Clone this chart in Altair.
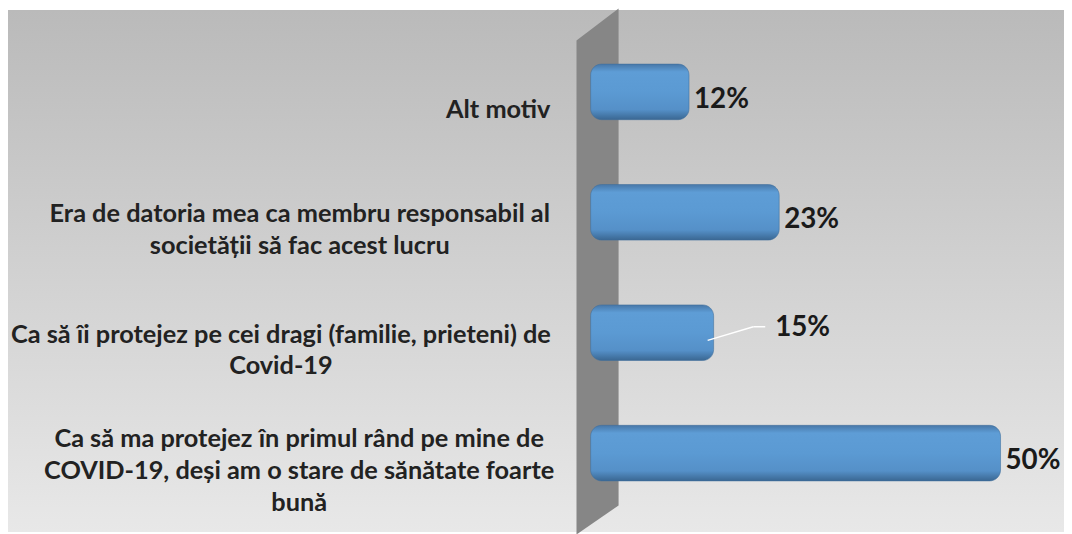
import altair as alt
import pandas as pd

# ---- data ----
categories = [
    ["Alt motiv"],
    ["Era de datoria mea ca membru responsabil al", "societății să fac acest lucru"],
    ["Ca să îi protejez pe cei dragi (familie, prieteni) de", "Covid-19"],
    ["Ca să ma protejez în primul rând pe mine de",
     "COVID-19, deși am o stare de sănătate foarte", "bună"],
]
values = [12, 23, 15, 50]
value_labels = ["12%", "23%", "15%", "50%"]

# ---- layout / style ----
W, H = 1064, 526
LABEL_FONT = 25.5
LINE_H = 32.5
VALUE_FONT = 28
FONT = "Lato"
X_DOMAIN = [-71.07, 57.74]
Y_DOMAIN = [-0.639, 3.614]
STEP_PX = H / (Y_DOMAIN[1] - Y_DOMAIN[0])
LABEL_RIGHT = 545  # right edge of the category text block (px)

# approximate Lato Bold advance widths (em)
_w = {" ": .26, "a": .53, "b": .58, "c": .48, "d": .58, "e": .54, "f": .34, "g": .52,
      "h": .58, "i": .26, "j": .26, "k": .53, "l": .26, "m": .86, "n": .58, "o": .57,
      "p": .58, "q": .58, "r": .39, "s": .44, "t": .37, "u": .58, "v": .53, "w": .79,
      "x": .52, "y": .53, "z": .47, "(": .3, ")": .3, ",": .22, "-": .36, ".": .22,
      "ă": .53, "â": .53, "î": .26, "ș": .44, "ț": .37, "M": .8, "I": .3, "O": .75,
      "D": .72, "V": .65, "C": .63, "A": .66, "E": .56}


def est_width(s, size):
    tot = 0.0
    for ch in s:
        if ch in _w:
            tot += _w[ch]
        elif ch.isdigit():
            tot += .58
        elif ch.isupper():
            tot += .65
        else:
            tot += .52
    return tot * size * 0.967


def px_to_x(px):
    return X_DOMAIN[0] + px / W * (X_DOMAIN[1] - X_DOMAIN[0])


rows = []
line_rows = []
for i, (lines, v, lab) in enumerate(zip(categories, values, value_labels)):
    rows.append(dict(idx=i, v=v, lab=lab))
    block_w = max(est_width(l, LABEL_FONT) for l in lines)
    cx = px_to_x(LABEL_RIGHT - block_w / 2)
    n = len(lines)
    for k, line in enumerate(lines):
        line_rows.append(dict(idx=i, line=line, cx=cx,
                              ly=i + (k - (n - 1) / 2) * LINE_H / STEP_PX))
df = pd.DataFrame(rows)
df_lines = pd.DataFrame(line_rows)

x_scale = alt.Scale(domain=X_DOMAIN, nice=False, zero=False)
y_scale = alt.Scale(domain=Y_DOMAIN, reverse=True, nice=False, zero=False)

one = pd.DataFrame({"k": [0]})

bg = alt.Chart(one).mark_rect(
    color=alt.Gradient(
        gradient="linear", x1=0, x2=0, y1=0, y2=1,
        stops=[alt.GradientStop(offset=0, color="#bababa"),
               alt.GradientStop(offset=1, color="#e8e8e8")],
    )
).encode(x=alt.value(0), x2=alt.value(W), y=alt.value(0), y2=alt.value(H))

wall = alt.Chart(one).mark_point(
    shape="M-0.08,-0.878L0.08,-1L0.08,0.8895L-0.08,1Z",
    filled=True, color="#868686", opacity=1, size=530 ** 2, strokeWidth=0,
).encode(x=alt.value(594), y=alt.value(263.5))

base = alt.Chart(df)

bar_grad = alt.Gradient(
    gradient="linear", x1=0, x2=0, y1=0, y2=1,
    stops=[
        alt.GradientStop(offset=0, color="#4777a8"),
        alt.GradientStop(offset=0.14, color="#5e9dd6"),
        alt.GradientStop(offset=0.5, color="#5b9ad3"),
        alt.GradientStop(offset=0.82, color="#5590c8"),
        alt.GradientStop(offset=1, color="#3a6792"),
    ],
)

bars = base.mark_bar(
    size=56, cornerRadius=5, cornerRadiusEnd=11, color=bar_grad,
    stroke="#3f6f9c", strokeWidth=0.8, strokeOpacity=0.7,
).encode(
    x=alt.X("v:Q", scale=x_scale, axis=None),
    x2=alt.datum(0),
    y=alt.Y("idx:Q", scale=y_scale, axis=None),
)

cat_text = alt.Chart(df_lines).mark_text(
    align="center", baseline="middle", font=FONT, fontWeight="bold",
    fontSize=LABEL_FONT, color="#222222", dy=18,
).encode(
    x=alt.X("cx:Q", scale=x_scale, axis=None),
    y=alt.Y("ly:Q", scale=y_scale, axis=None),
    text=alt.Text("line:N"),
)

val_text = base.transform_filter(alt.datum.idx != 2).mark_text(
    align="left", baseline="middle", font=FONT, fontWeight="bold",
    fontSize=VALUE_FONT, color="#1a1a1a", dx=5, dy=8,
).encode(
    x=alt.X("v:Q", scale=x_scale, axis=None),
    y=alt.Y("idx:Q", scale=y_scale, axis=None),
    text="lab:N",
)

moved = base.transform_filter(alt.datum.idx == 2)
val_text_moved = moved.mark_text(
    align="left", baseline="middle", font=FONT, fontWeight="bold",
    fontSize=VALUE_FONT, color="#1a1a1a", dx=62, dy=-5,
).encode(
    x=alt.X("v:Q", scale=x_scale, axis=None),
    y=alt.Y("idx:Q", scale=y_scale, axis=None),
    text="lab:N",
)

leader1 = moved.mark_rule(
    color="white", strokeWidth=1.5, xOffset=-6, x2Offset=40, yOffset=7.7, y2Offset=-6,
).encode(
    x=alt.X("v:Q", scale=x_scale, axis=None), x2=alt.X2("v"),
    y=alt.Y("idx:Q", scale=y_scale, axis=None), y2=alt.Y2("idx"),
)
leader2 = moved.mark_rule(
    color="white", strokeWidth=1.5, xOffset=40, x2Offset=52, yOffset=-6, y2Offset=-6,
).encode(
    x=alt.X("v:Q", scale=x_scale, axis=None), x2=alt.X2("v"),
    y=alt.Y("idx:Q", scale=y_scale, axis=None), y2=alt.Y2("idx"),
)

chart = alt.layer(
    bg, wall, bars, cat_text, leader1, leader2, val_text, val_text_moved
).properties(
    width=W, height=H, padding=0, autosize="none",
).configure_view(stroke=None)

chart.save("out.html", embed_options={"renderer": "svg", "actions": False})
